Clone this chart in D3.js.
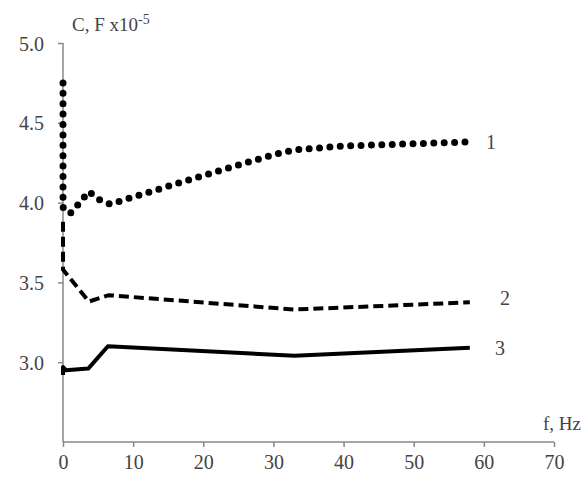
<!DOCTYPE html>
<html>
<head>
<meta charset="utf-8">
<script src="https://cdn.jsdelivr.net/npm/d3@7"></script>
<style>
  body { margin: 0; background: #fff; }
  text { font-family: "Liberation Serif", "Times New Roman", serif; fill: #444; }
</style>
</head>
<body>
<div id="chart"></div>
<script>
// frequency (Hz) and capacitance (x10^-5 F)
var freq1 = [0, 0, 1.0, 2.4, 3.7, 5.1, 6.7, 20, 30, 33, 40, 58];
var cap1  = [4.75, 3.97, 3.93, 4.0, 4.07, 4.02, 3.99, 4.17, 4.30, 4.33, 4.355, 4.38];

var freq2 = [0, 0, 3.7, 6.5, 33, 58];
var cap2  = [3.88, 3.58, 3.38, 3.42, 3.33, 3.375];

var freq3 = [0, 0, 0.4, 3.6, 6.4, 33, 58];
var cap3  = [2.92, 2.97, 2.95, 2.96, 3.10, 3.04, 3.09];

var xTicks = [0, 10, 20, 30, 40, 50, 60, 70];
var yTicks = [3.0, 3.5, 4.0, 4.5, 5.0];
var curveLabels = ["1", "2", "3"];

var margin = { top: 43, left: 63, bottom: 38, right: 30 },
    width = 584 - margin.left - margin.right,
    height = 480 - margin.top - margin.bottom;

var svg = d3.select("#chart").append("svg")
    .attr("width", 584)
    .attr("height", 480)
    .append("g")
    .attr("transform", "translate(" + margin.left + "," + margin.top + ")");

var x = d3.scaleLinear().domain([0, 70]).range([0, 491]);
var y = d3.scaleLinear().domain([2.5, 5.0]).range([height, 0]);

var xAxis = d3.axisBottom(x).tickValues(xTicks).tickSize(5).tickPadding(8)
    .tickFormat(d3.format("d"));
var yAxis = d3.axisLeft(y).tickValues(yTicks).tickSize(5).tickPadding(14)
    .tickFormat(d3.format(".1f"));

var gx = svg.append("g")
    .attr("class", "axis x")
    .attr("transform", "translate(0," + height + ")")
    .call(xAxis);
var gy = svg.append("g")
    .attr("class", "axis y")
    .call(yAxis);

[gx, gy].forEach(function (g) {
    g.select(".domain").attr("stroke", "#888").attr("stroke-width", 1.5);
    g.selectAll(".tick line").attr("stroke", "#888").attr("stroke-width", 1.5);
    g.selectAll("text").attr("font-size", 20).attr("fill", "#444")
        .attr("font-family", "Liberation Serif");
});
gy.selectAll("text").attr("dy", "0.35em");
// domain path draws outer ticks; redraw plain lines instead
gx.select(".domain").attr("d", "M0,0H" + x(70));
gy.select(".domain").attr("d", "M0," + height + "V0");

var line = d3.line()
    .x(function (d) { return x(d[0]); })
    .y(function (d) { return y(d[1]); });

function pairs(fs, cs) { return fs.map(function (f, i) { return [f, cs[i]]; }); }

svg.append("path")
    .datum(pairs(freq1, cap1))
    .attr("d", line)
    .attr("fill", "none")
    .attr("stroke", "#000")
    .attr("stroke-width", 7)
    .attr("stroke-linecap", "round")
    .attr("stroke-dasharray", "0 10.4");

svg.append("path")
    .datum(pairs(freq2, cap2))
    .attr("d", line)
    .attr("fill", "none")
    .attr("stroke", "#000")
    .attr("stroke-width", 4)
    .attr("stroke-dasharray", "10 5");

svg.append("path")
    .datum(pairs(freq3, cap3))
    .attr("d", line)
    .attr("fill", "none")
    .attr("stroke", "#000")
    .attr("stroke-width", 4)
    .attr("stroke-linejoin", "round");

// curve numbers beside the line ends
var labelPos = [[60.3, cap1[cap1.length - 1]], [62.3, 3.40], [61.6, 3.09]];
svg.selectAll(".curveLabel")
    .data(curveLabels)
    .enter()
    .append("text")
    .attr("class", "curveLabel")
    .attr("x", function (d, i) { return x(labelPos[i][0]); })
    .attr("y", function (d, i) { return y(labelPos[i][1]); })
    .attr("dy", "0.35em")
    .attr("font-size", 20)
    .text(function (d) { return d; });

// axis titles
var yTitle = svg.append("text")
    .attr("x", 9)
    .attr("y", -12)
    .attr("font-size", 19);
yTitle.append("tspan").text("C, F x10");
yTitle.append("tspan").attr("dy", -7).attr("font-size", 14).text("-5");

svg.append("text")
    .attr("x", 518)
    .attr("y", height - 12)
    .attr("text-anchor", "end")
    .attr("font-size", 19)
    .text("f, Hz");
</script>
</body>
</html>
